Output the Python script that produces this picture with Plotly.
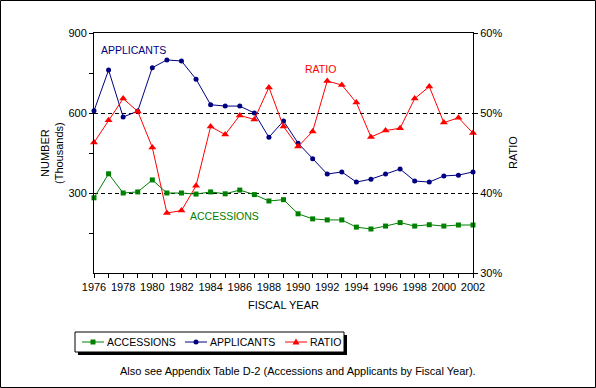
import plotly.graph_objects as go

years = list(range(1976, 2003))
accessions = [282, 372, 300, 304, 349, 300, 300, 296, 304, 297, 311, 294, 270, 275,
              222, 203, 199, 199, 172, 165, 176, 189, 176, 181, 176, 180, 180]
applicants = [608, 761, 585, 607, 770, 799, 795, 727, 631, 626, 626, 600, 509, 570,
              487, 428, 371, 379, 341, 352, 371, 390, 345, 341, 364, 367, 379]
ratio = [46.3, 49.1, 51.8, 50.2, 45.7, 37.5, 37.8, 40.9, 48.3, 47.3, 49.7, 49.2, 53.2, 48.3,
         45.8, 47.7, 54.0, 53.5, 51.3, 47.0, 47.8, 48.1, 51.8, 53.3, 48.8, 49.4, 47.5]
series_names = ["ACCESSIONS", "APPLICANTS", "RATIO"]

GREEN = "#008000"
NAVY = "#000080"
RED = "#FF0000"
FONT = "Liberation Sans, Arial, sans-serif"

W, H = 596, 388
L, R, T, B = 94, 123, 33, 115
PW, PH = W - L - R, H - T - B

def px(x):
    return (x - L) / PW

def py(y):
    return 1 - (y - T) / PH

fig = go.Figure()
fig.add_trace(go.Scatter(x=years, y=accessions, name=series_names[0], mode="lines+markers",
                         line=dict(color=GREEN, width=1),
                         marker=dict(symbol="square", size=5, color=GREEN),
                         cliponaxis=False))
fig.add_trace(go.Scatter(x=years, y=applicants, name=series_names[1], mode="lines+markers",
                         line=dict(color=NAVY, width=1),
                         marker=dict(symbol="circle", size=5, color=NAVY),
                         cliponaxis=False))
fig.add_trace(go.Scatter(x=years, y=ratio, name=series_names[2], mode="lines+markers", yaxis="y2",
                         line=dict(color=RED, width=1),
                         marker=dict(symbol="triangle-up", size=7, color=RED),
                         cliponaxis=False))

fig.update_layout(
    width=W, height=H, autosize=False,
    margin=dict(l=L, r=R, t=T, b=B, autoexpand=False),
    paper_bgcolor="white", plot_bgcolor="white",
    font=dict(family=FONT, size=11, color="black"),
    showlegend=False,
    xaxis=dict(range=[1976, 2002], tickmode="linear", tick0=1976, dtick=2,
               ticks="outside", ticklen=4, tickcolor="black",
               showline=True, linecolor="black", linewidth=1, mirror=True,
               showgrid=False, zeroline=False,
               minor=dict(dtick=1, tick0=1976, ticks="outside", ticklen=4, tickcolor="black", showgrid=False)),
    yaxis=dict(range=[0, 900], tickmode="array",
               ticks="outside", ticklen=4, tickcolor="black",
               showline=True, linecolor="black", linewidth=1,
               showgrid=True, gridcolor="black", gridwidth=1, griddash="4px,3px",
               zeroline=False, showticklabels=True,
               tickvals=[300, 600, 900], ticktext=["300", "600", "900"],
               minor=dict(tickvals=[150, 450, 750], ticks="outside", ticklen=4, tickcolor="black", showgrid=False)),
    yaxis2=dict(range=[30, 60], overlaying="y", side="right", tickmode="linear", tick0=30, dtick=10,
                ticksuffix="%", ticks="outside", ticklen=4, tickcolor="black",
                showline=True, linecolor="black", linewidth=1, showgrid=False, zeroline=False),
)

fig.add_annotation(x=1976.34, y=836, xref="x", yref="y", text="APPLICANTS", showarrow=False,
                   xanchor="left", yanchor="middle", font=dict(color=NAVY, size=10.5, family=FONT))
fig.add_annotation(x=1990.33, y=765, xref="x", yref="y", text="RATIO", showarrow=False,
                   xanchor="left", yanchor="middle", font=dict(color=RED, size=10.5, family=FONT))
fig.add_annotation(x=1982.45, y=214, xref="x", yref="y", text="ACCESSIONS", showarrow=False,
                   xanchor="left", yanchor="middle", font=dict(color=GREEN, size=10.5, family=FONT))

fig.add_annotation(x=px(52), y=0.5, xref="paper", yref="paper", text="NUMBER<br>(Thousands)",
                   textangle=-90, showarrow=False, xanchor="center", yanchor="middle",
                   font=dict(size=11, family=FONT))
fig.add_annotation(x=px(513), y=0.5, xref="paper", yref="paper", text="RATIO",
                   textangle=-90, showarrow=False, xanchor="center", yanchor="middle",
                   font=dict(size=11, family=FONT))
fig.add_annotation(x=px(283), y=py(305), xref="paper", yref="paper", text="FISCAL YEAR",
                   showarrow=False, xanchor="center", yanchor="middle", font=dict(size=11, family=FONT))
fig.add_annotation(x=px(298), y=py(371), xref="paper", yref="paper",
                   text="Also see Appendix Table D-2 (Accessions and Applicants by Fiscal Year).",
                   showarrow=False, xanchor="center", yanchor="middle", font=dict(size=11, family=FONT))

# ---- legend (drawn by hand: shadow, box, samples, labels) ----
fig.add_shape(type="rect", xref="paper", yref="paper", x0=px(78), x1=px(347), y0=py(355), y1=py(335),
              fillcolor="black", line=dict(width=0), layer="above")
fig.add_shape(type="rect", xref="paper", yref="paper", x0=px(75), x1=px(344), y0=py(352), y1=py(332),
              fillcolor="white", line=dict(color="black", width=1), layer="above")
LY = 342
leg = [(82, GREEN, "square"), (185, NAVY, "circle"), (285, RED, "triangle")]
for (x0, col, sym), name in zip(leg, series_names):
    fig.add_shape(type="line", xref="paper", yref="paper", x0=px(x0), x1=px(x0 + 22), y0=py(LY), y1=py(LY),
                  line=dict(color=col, width=1), layer="above")
    cx = x0 + 11
    if sym == "square":
        fig.add_shape(type="rect", xref="paper", yref="paper", x0=px(cx - 2.5), x1=px(cx + 2.5),
                      y0=py(LY + 2.5), y1=py(LY - 2.5), fillcolor=col, line=dict(width=0), layer="above")
    elif sym == "circle":
        fig.add_shape(type="circle", xref="paper", yref="paper", x0=px(cx - 2.5), x1=px(cx + 2.5),
                      y0=py(LY + 2.5), y1=py(LY - 2.5), fillcolor=col, line=dict(width=0), layer="above")
    else:
        path = "M {:.5f},{:.5f} L {:.5f},{:.5f} L {:.5f},{:.5f} Z".format(
            px(cx - 3.5), py(LY + 2.5), px(cx + 3.5), py(LY + 2.5), px(cx), py(LY - 3.5))
        fig.add_shape(type="path", xref="paper", yref="paper", path=path, fillcolor=col,
                      line=dict(width=0), layer="above")
    fig.add_annotation(x=px(x0 + 23), y=py(LY), xref="paper", yref="paper", text=name, showarrow=False,
                       xanchor="left", yanchor="middle", font=dict(size=10.5, family=FONT, color="black"))

# outer frame
fig.add_shape(type="rect", xref="paper", yref="paper", x0=px(0.5), x1=px(595.5), y0=py(387.5), y1=py(0.5),
              line=dict(color="black", width=1), fillcolor="rgba(0,0,0,0)")

fig.write_html("out.html", config={"displayModeBar": False},
               post_script="document.body.style.margin='0';document.body.style.overflow='hidden';")
